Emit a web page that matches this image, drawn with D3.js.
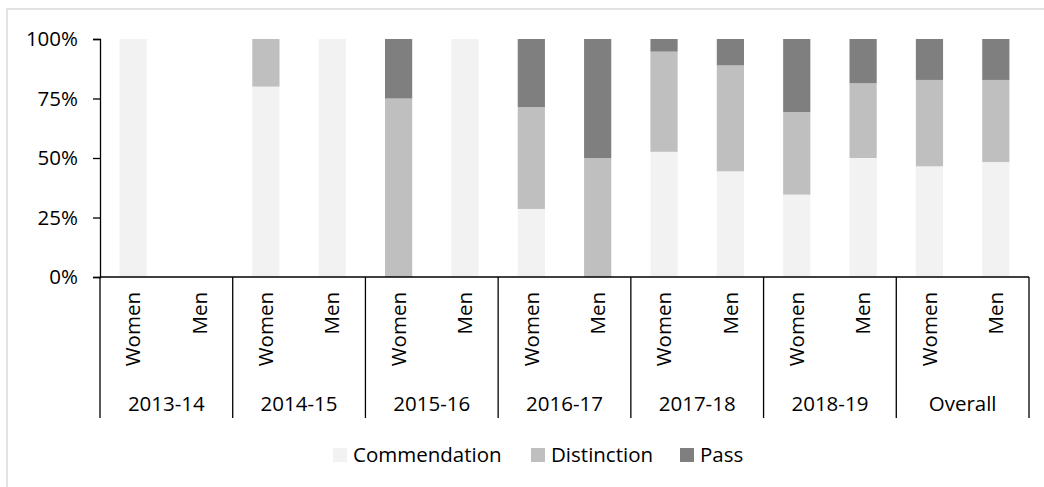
<!DOCTYPE html>
<html>
<head>
<meta charset="utf-8">
<script src="https://cdn.jsdelivr.net/npm/d3@7"></script>
<style>
  body { margin: 0; background: #fff; }
  text { font-family: "Open Sans", "Liberation Sans", sans-serif; fill: #000; }
</style>
</head>
<body>
<div id="chart"></div>
<script>
// chart data
const years = ['2013-14', '2014-15', '2015-16', '2016-17', '2017-18', '2018-19', 'Overall'];
const genders = ['Women', 'Men'];
const seriesKeys = ['Commendation', 'Distinction', 'Pass'];
// one value per bar, in order year x gender
const commendation = [1, 0, 0.80, 1, 0, 1, 0.286, 0, 0.526, 0.444, 0.346, 0.50, 0.465, 0.483];
const distinction  = [0, 0, 0.20, 0, 0.75, 0, 0.428, 0.50, 0.421, 0.445, 0.347, 0.314, 0.363, 0.345];
const pass         = [0, 0, 0, 0, 0.25, 0, 0.286, 0.50, 0.053, 0.111, 0.307, 0.186, 0.172, 0.172];
const yTicks = [0, 0.25, 0.5, 0.75, 1];
const colors = ['#f2f2f2', '#bfbfbf', '#7f7f7f'];

const W = 1044, H = 487;
const plot = {left: 100, right: 1029, top: 39, bottom: 277};
const fontSize = '20.5px';

const svg = d3.select('#chart').append('svg')
    .attr('width', W)
    .attr('height', H);

// chart area border (cut off at right/bottom in the reference)
svg.append('rect')
    .attr('x', 7).attr('y', 9)
    .attr('width', W + 20).attr('height', H + 20)
    .attr('fill', 'none')
    .attr('stroke', '#d9d9d9')
    .attr('stroke-width', 1.5);

// build rows
const rows = [];
years.forEach((y, i) => {
    genders.forEach((g, j) => {
        const k = i * 2 + j;
        rows.push({id: y + '|' + g, year: y, gender: g,
            Commendation: commendation[k], Distinction: distinction[k], Pass: pass[k]});
    });
});

const xScale = d3.scaleBand()
    .domain(rows.map(d => d.id))
    .range([plot.left, plot.right])
    .paddingInner(0.59)
    .paddingOuter(0.295);

const yScale = d3.scaleLinear().domain([0, 1]).range([plot.bottom, plot.top]);

const stacked = d3.stack().keys(seriesKeys)(rows);

svg.append('g').selectAll('g')
    .data(stacked)
    .join('g')
    .attr('fill', (d, i) => colors[i])
    .selectAll('rect')
    .data(d => d)
    .join('rect')
    .attr('x', d => xScale(d.data.id))
    .attr('y', d => yScale(d[1]))
    .attr('width', xScale.bandwidth())
    .attr('height', d => yScale(d[0]) - yScale(d[1]));

// Y axis
const yAxis = d3.axisLeft(yScale)
    .tickValues(yTicks)
    .tickFormat(d3.format('.0%'))
    .tickSize(7)
    .tickPadding(15);
const yg = svg.append('g')
    .attr('transform', 'translate(' + plot.left + ',0)')
    .call(yAxis);
yg.selectAll('path, line').attr('stroke', '#000').attr('stroke-width', 1.3);
yg.selectAll('text').style('font-size', fontSize).attr('fill', '#000');

// X axis line
svg.append('line')
    .attr('x1', plot.left).attr('x2', plot.right)
    .attr('y1', plot.bottom).attr('y2', plot.bottom)
    .attr('stroke', '#000').attr('stroke-width', 1.3);

// group separators
const groupW = (plot.right - plot.left) / years.length;
const bounds = d3.range(years.length + 1).map(i => plot.left + i * groupW);
svg.append('g').selectAll('line')
    .data(bounds)
    .join('line')
    .attr('x1', d => d).attr('x2', d => d)
    .attr('y1', plot.bottom).attr('y2', 418)
    .attr('stroke', '#000').attr('stroke-width', 1.3);

// gender labels (rotated)
svg.append('g').selectAll('text')
    .data(rows)
    .join('text')
    .attr('transform', d => 'translate(' + (xScale(d.id) + xScale.bandwidth() / 2) + ',292) rotate(-90)')
    .attr('text-anchor', 'end')
    .attr('dy', '0.35em')
    .style('font-size', fontSize)
    .text(d => d.gender);

// year labels
svg.append('g').selectAll('text')
    .data(years)
    .join('text')
    .attr('x', (d, i) => plot.left + (i + 0.5) * groupW)
    .attr('y', 404)
    .attr('dy', '0.35em')
    .attr('text-anchor', 'middle')
    .style('font-size', fontSize)
    .text(d => d);

// legend
const legendX = [333, 531, 680];
const legend = svg.append('g').selectAll('g')
    .data(seriesKeys)
    .join('g')
    .attr('transform', (d, i) => 'translate(' + legendX[i] + ',448)');
legend.append('rect')
    .attr('width', 14).attr('height', 14)
    .attr('fill', (d, i) => colors[i]);
legend.append('text')
    .attr('x', 20).attr('y', 7)
    .attr('dy', '0.35em')
    .style('font-size', fontSize)
    .text(d => d);
</script>
</body>
</html>
